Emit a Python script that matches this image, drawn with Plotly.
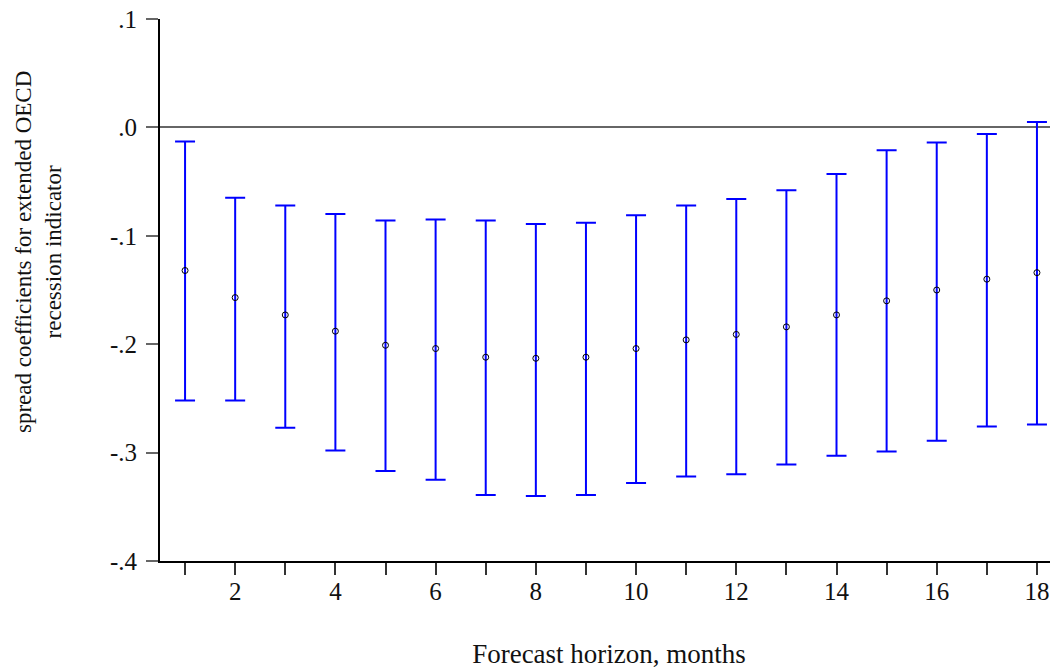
import plotly.graph_objects as go

horizon = list(range(1, 19))
coef = [-0.132, -0.157, -0.173, -0.188, -0.201, -0.204, -0.212, -0.213, -0.212,
        -0.204, -0.196, -0.191, -0.184, -0.173, -0.160, -0.150, -0.140, -0.134]
upper = [-0.013, -0.065, -0.072, -0.080, -0.086, -0.085, -0.086, -0.089, -0.088,
         -0.081, -0.072, -0.066, -0.058, -0.043, -0.021, -0.014, -0.006, 0.005]
lower = [-0.252, -0.252, -0.277, -0.298, -0.317, -0.325, -0.339, -0.340, -0.339,
         -0.328, -0.322, -0.320, -0.311, -0.303, -0.299, -0.289, -0.276, -0.274]

ytickvals = [0.1, 0.0, -0.1, -0.2, -0.3, -0.4]
yticktext = [".1", ".0", "-.1", "-.2", "-.3", "-.4"]
xtickvals = list(range(1, 19))
xticktext = [str(v) if v % 2 == 0 else "" for v in xtickvals]

font_family = "Liberation Serif, DejaVu Serif, serif"

fig = go.Figure()
fig.add_trace(go.Scatter(
    x=horizon, y=coef, mode="markers",
    marker=dict(symbol="circle-open", size=6, color="black", line=dict(width=1, color="black")),
    error_y=dict(type="data", symmetric=False,
                 array=[u - c for u, c in zip(upper, coef)],
                 arrayminus=[c - l for c, l in zip(coef, lower)],
                 color="#0000ff", thickness=2, width=10),
    showlegend=False,
))

fig.update_layout(
    width=1050, height=661,
    margin=dict(l=152, r=0, t=11, b=108),
    paper_bgcolor="white", plot_bgcolor="white",
    font=dict(family=font_family, size=25, color="#111111"),
    xaxis=dict(range=[0.5, 18.42], tickvals=xtickvals, ticktext=xticktext,
               ticks="outside", ticklen=12, tickcolor="#333333", tickwidth=1.5,
               ticklabelstandoff=-5, automargin=False, ticklabeloverflow="allow",
               showline=True, linecolor="black", linewidth=2,
               showgrid=False, zeroline=False,
               title=dict(text="Forecast horizon, months", standoff=42,
                          font=dict(size=27))),
    yaxis=dict(range=[-0.4, 0.1], tickvals=ytickvals, ticktext=yticktext,
               ticks="outside", ticklen=12, tickcolor="#666666", tickwidth=1.5,
               ticklabelstandoff=4, automargin=False, ticklabeloverflow="allow",
               showline=True, linecolor="black", linewidth=2,
               showgrid=False, zeroline=True, zerolinecolor="#666666", zerolinewidth=1.5),
    annotations=[dict(
        text="spread coefficients for extended OECD<br>recession indicator",
        xref="paper", yref="paper", x=0, y=0.57, xshift=-122,
        xanchor="center", yanchor="middle", textangle=-90, align="center",
        showarrow=False, font=dict(size=23, family=font_family, color="#111111"),
    )],
)

fig.write_html("out.html")
